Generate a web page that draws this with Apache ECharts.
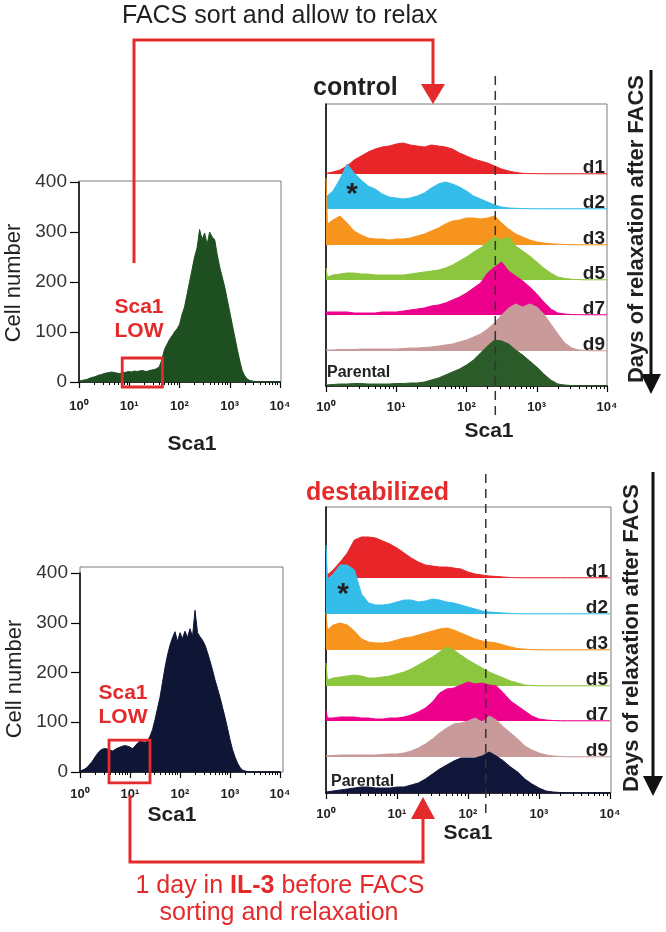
<!DOCTYPE html>
<html><head><meta charset="utf-8">
<script src="https://cdn.jsdelivr.net/npm/echarts@6/dist/echarts.min.js"></script>
<style>html,body{margin:0;padding:0;background:#fff}#c{width:666px;height:932px}</style>
</head><body><div id="c"></div>
<script>
// ---------- DATA ----------
// x positions are log10(Sca1)
const ridgeX = [0,0.02,0.1,0.2,0.3,0.4,0.5,0.6,0.7,0.8,0.9,1.0,1.1,1.2,1.3,1.4,1.5,1.6,1.7,1.8,1.9,2.0,2.1,2.2,2.3,2.4,2.5,2.6,2.7,2.8,2.9,3.0,3.1,3.2,3.3,3.4,3.5,3.6,3.7,3.8,3.9,4.0];
const bigX = [0,0.05,0.1,0.15,0.2,0.25,0.3,0.35,0.4,0.45,0.5,0.55,0.6,0.65,0.7,0.75,0.8,0.85,0.9,0.95,1,1.05,1.1,1.15,1.2,1.25,1.3,1.35,1.4,1.45,1.5,1.55,1.6,1.65,1.7,1.75,1.8,1.85,1.9,1.95,2,2.05,2.1,2.15,2.2,2.25,2.3,2.35,2.4,2.45,2.5,2.55,2.6,2.65,2.7,2.75,2.8,2.85,2.9,2.95,3,3.05,3.1,3.15,3.2,3.25,3.3,3.35,3.4,3.45,3.5,3.55,3.6,3.65,3.7,3.75,3.8,3.85,3.9,3.95,4];
const tickLabels = ['10\u2070','10\u00b9','10\u00b2','10\u00b3','10\u2074'];
const cellTicks = [0,100,200,300,400];
const rowLabels = ['d1','d2','d3','d5','d7','d9','Parental'];

// control (top) - big histogram of parental cells, cell number
const parentalCtrlBig = [2,3,4,5,7,9,10,12,14,15,17,18,19,20,19,18,17,18,19,20,21,20,22,21,22,23,22,21,23,24,25,27,31,45,65,75,85,92,100,106,115,135,150,175,200,225,250,268,305,285,298,275,300,290,285,255,230,210,190,165,140,115,90,65,42,22,12,6,3,2,1,0,0,0,0,0,0,0,0,0,0];
// destabilized (bottom) big histogram
const parentalDstBig = [2,4,6,10,16,22,30,37,43,46,47,46,44,42,45,48,50,52,53,52,50,47,52,58,63,61,60,62,72,85,105,128,150,180,210,235,255,270,282,262,280,268,283,270,288,272,325,280,272,265,255,240,223,205,185,168,150,130,110,88,65,45,30,18,9,4,2,1,0,0,0,0,0,0,0,0,0,0,0,0,0];

// control ridges (relative counts)
const ctrlD1 = [0.5,1,2,4,8,14,18,22,25,27,28,30,31,29,28,27,29,28,27,25,21,18,15,13,11,8,5,3,1.5,0.7,0.4,0.3,0.2,0.2,0.2,0.2,0.2,0.2,0.2,0.2,0.2,0.2];
const ctrlD2 = [12,13,18,30,45,36,29,23,20,15,12,11,10,11,13,16,21,25,27,25,22,18,13,10,7,4,2,1,0.7,0.4,0.3,0.2,0.2,0.2,0.2,0.2,0.2,0.2,0.2,0.2,0.2,0.2];
const ctrlD3 = [67,21,25,29,22,14,10,7,6,6,5,6,6,7,9,11,14,17,21,24,25,27,27,26,27,29,22,16,11,8,5,3,2,1.2,0.8,0.5,0.3,0.2,0.2,0.2,0.2,0.2];
const ctrlD5 = [12,3,5,6,7,7,6,6,5,5,5,5,5,6,7,8,9,10,12,15,19,23,28,32,38,43,40,43,34,29,24,18,12,7,3,1.5,0.7,0.4,0.2,0.2,0.2,0.2];
const ctrlD7 = [3,3,3,3,3,2,2,2,2,3,3,3,4,5,6,7,9,10,12,15,18,22,27,32,42,48,53,44,39,34,28,21,13,6,2,1,0.5,0.3,0.2,0.2,0.2,0.2];
const ctrlD9 = [1,1,1,1.5,1.5,1.5,2,2,2,2,2,2,2.5,3,3,3.5,4,5,6,7,9,11,14,17,22,28,36,43,47,44,47,44,37,27,17,8,3,1,0.5,0.2,0.2,0.2];
const ctrlPar = [1,1,1.5,2,2,2.5,2.5,2,2,2,2,2.5,2.5,3,3,4,6,8,11,14,17,21,26,33,40,46,45,42,36,31,25,19,12,6,2,1,0.4,0.2,0.2,0.2,0.2,0.2];

// destabilized ridges
const dstD1 = [2,3,8,16,25,38,41,41,40,37,34,30,25,20,16,13,12,11,11,10,9,6,4,3,2,1.5,1,0.5,0.3,0.2,0.2,0.2,0.2,0.2,0.2,0.2,0.2,0.2,0.2,0.2,0.2,0.2];
const dstD2 = [69,35,40,49,49,44,20,11,9,9,10,12,14,14,12,13,15,14,12,11,9,7,5,3,2,1.5,1,0.5,0.3,0.2,0.2,0.2,0.2,0.2,0.2,0.2,0.2,0.2,0.2,0.2,0.2,0.2];
const dstD3 = [37,20,25,27,25,19,11,8,7,7,8,10,12,13,15,17,19,21,22,20,17,14,11,9,8,7,5,3,1.5,0.8,0.4,0.2,0.2,0.2,0.2,0.2,0.2,0.2,0.2,0.2,0.2,0.2];
const dstD5 = [23,6,8,9,10,11,10,8,8,9,10,12,14,17,21,25,29,34,39,36,31,26,22,18,14,11,8,5,3,1,0.5,0.2,0.2,0.2,0.2,0.2,0.2,0.2,0.2,0.2,0.2,0.2];
const dstD7 = [11,3,3,4,4,4,3,3,2,2,3,3,4,6,9,13,19,28,32,33,36,39,37,38,36,35,28,20,15,10,5,2,1,0.5,0.2,0.2,0.2,0.2,0.2,0.2,0.2,0.2];
const dstD9 = [1,1,1.5,2,2,2,2,2,2,2.5,3,3,4,6,9,13,18,24,29,33,34,36,39,35,41,37,30,24,18,11,7,4,2,1,0.5,0.2,0.2,0.2,0.2,0.2,0.2,0.2];
const dstPar = [1,1,2,3,4,5,6,6,5,5,5,6,6,8,10,14,19,24,28,32,35,35,35,37,41,37,32,26,21,14,9,5,2,1,0.5,0.2,0.2,0.2,0.2,0.2,0.2,0.2];

// sort gates (log10 Sca1, cell number) and threshold lines (Sca1)
const gateCtrl = {x:[0.86,1.66], y:[-10,48]};
const gateDst  = {x:[0.58,1.40], y:[-22,64]};
const thresholdCtrl = 257;
const thresholdDst = 178;

// ---------- STYLE ----------
const FONT = 'Arial, "Liberation Sans", Helvetica, sans-serif';
const INK = '#231f20';
const RED = '#e42a2a';
const ctrlColors = ['#e8262a','#35bdea','#f7941d','#8cc63f','#ec008c','#c99a9a','#2b5b28'];
const dstColors  = ['#e8262a','#35bdea','#f7941d','#8cc63f','#ec008c','#c99a9a','#0f163a'];
const bigGreen = '#1e4f20';
const bigNavy = '#0e1535';

const minorTicks = [];
for (let d = 0; d < 4; d++) for (let k = 2; k <= 9; k++) minorTicks.push(d + Math.log10(k));

const grid = [], xAxis = [], yAxis = [], series = [];

function addFrame(rect, leftAxis) {
  const gi = grid.length;
  grid.push(Object.assign({show:true, borderColor:'#7a7a7a', borderWidth:1, backgroundColor:'transparent'}, rect));
  xAxis.push({gridIndex:gi, type:'value', min:0, max:1, show:false});
  yAxis.push({gridIndex:gi, type:'value', min:0, max:1, show: !!leftAxis,
    axisLine:{show:true, lineStyle:{color:'#000', width:1.5}}, axisTick:{show:false}, axisLabel:{show:false}, splitLine:{show:false}});
}
function visibleX(gi, margin) {
  xAxis.push({gridIndex:gi, type:'value', min:0, max:4, interval:1, position:'bottom',
    axisLine:{show:true, onZero:false, lineStyle:{color:'#000', width:1.5}},
    axisTick:{show:true, inside:false, length:6, lineStyle:{color:'#000', width:1.2}},
    splitLine:{show:false},
    axisLabel:{show:true, margin:margin, formatter:v => tickLabels[Math.round(v)], fontFamily:FONT, fontSize:13, fontWeight:'bold', color:INK}});
  xAxis.push({gridIndex:gi, type:'value', min:0, max:4, position:'bottom',
    axisLine:{show:false}, axisLabel:{show:false}, splitLine:{show:false},
    axisTick:{show:true, customValues:minorTicks, length:3, lineStyle:{color:'#000', width:1}}});
}
function areaSeries(xi, yi, xs, ys, color, z) {
  series.push({type:'line', xAxisIndex:xi, yAxisIndex:yi, data: xs.map((x, j) => [x, ys[j]]),
    showSymbol:false, symbol:'none', smooth:false, clip:false, silent:true, z:z,
    lineStyle:{color:color, width:1}, itemStyle:{color:color}, areaStyle:{color:color, opacity:1}});
  return series.length - 1;
}
function bigHist(frameRect, dataRect, ys, color, labelMargin) {
  addFrame(frameRect, false);
  const gi = grid.length;
  grid.push(dataRect);
  const xi = xAxis.length;
  visibleX(gi, labelMargin);
  const yi = yAxis.length;
  yAxis.push({gridIndex:gi, type:'value', min:0, max:400, interval:100,
    axisLine:{show:true, lineStyle:{color:'#000', width:1.5}},
    axisTick:{show:true, length:9, lineStyle:{color:'#000', width:1.2}},
    splitLine:{show:false},
    axisLabel:{show:true, margin:12, fontFamily:FONT, fontSize:19, color:'#333', formatter: v => String(v)}});
  return areaSeries(xi, yi, bigX, ys, color, 3);
}
function ridges(frameRect, left, width, baselines, rows, colors, labelMargin) {
  addFrame(frameRect, true);
  let lastSeries = -1;
  rows.forEach((ys, i) => {
    const gi = grid.length;
    grid.push({left:left, width:width, top:baselines[i] - 80, height:80});
    const xi = xAxis.length;
    if (i === rows.length - 1) visibleX(gi, labelMargin);
    else xAxis.push({gridIndex:gi, type:'value', min:0, max:4, show:false});
    const yi = yAxis.length;
    yAxis.push({gridIndex:gi, type:'value', min:0, max:80, show:false});
    lastSeries = areaSeries(xi, yi, ridgeX, ys, colors[i], 3 + i);
  });
  return lastSeries;
}

const ctrlBase = [174, 209, 245, 280, 315, 351, 386];
const dstBase = [578, 614, 650, 686, 721, 757, 793];

const sTL = bigHist({left:79, top:181, width:202, height:201}, {left:79, top:182, width:201, height:200}, parentalCtrlBig, bigGreen, 18);
const sTR = ridges({left:326, top:104, width:281, height:282}, 326, 281, ctrlBase,
  [ctrlD1, ctrlD2, ctrlD3, ctrlD5, ctrlD7, ctrlD9, ctrlPar], ctrlColors, 15);
const sBL = bigHist({left:80, top:567, width:203, height:205}, {left:80, top:573, width:200, height:199}, parentalDstBig, bigNavy, 16);
const sBR = ridges({left:326, top:507, width:285, height:286}, 326, 284, dstBase,
  [dstD1, dstD2, dstD3, dstD5, dstD7, dstD9, dstPar], dstColors, 15);

const chart = echarts.init(document.getElementById('c'), null, {renderer:'canvas', width:666, height:932});
chart.setOption({animation:false, backgroundColor:'#fff', textStyle:{fontFamily:FONT}, grid, xAxis, yAxis, series});

// ---------- ANNOTATIONS ----------
const g = [];
function txt(x, y, text, font, fill, align, valign, rot, extra) {
  g.push(Object.assign({type:'text', x:x, y:y, rotation:rot || 0, silent:true, z:100,
    style:Object.assign({text:text, font:font, fill:fill, textAlign:align, textVerticalAlign:valign, align:align, verticalAlign:valign}, extra || {})}));
}
function gateRect(sIdx, gate) {
  const p1 = chart.convertToPixel({seriesIndex:sIdx}, [gate.x[0], gate.y[1]]);
  const p2 = chart.convertToPixel({seriesIndex:sIdx}, [gate.x[1], gate.y[0]]);
  g.push({type:'rect', z:100, silent:true, shape:{x:p1[0], y:p1[1], width:p2[0]-p1[0], height:p2[1]-p1[1]},
    style:{fill:'none', stroke:RED, lineWidth:2.8}});
}
function dashLine(sIdx, value, y1, y2) {
  const x = chart.convertToPixel({seriesIndex:sIdx}, [Math.log10(value), 0])[0];
  g.push({type:'line', z:100, silent:true, shape:{x1:x, y1:y1, x2:x, y2:y2}, style:{stroke:'#333', lineWidth:1.5, lineDash:[9,6]}});
}
gateRect(sTL, gateCtrl);
gateRect(sBL, gateDst);
dashLine(sTR, thresholdCtrl, 76, 418);
dashLine(sBR, thresholdDst, 474, 814);

// red connectors
g.push({type:'polyline', z:100, silent:true, shape:{points:[[134,263],[134,40],[433,40],[433,88]]}, style:{stroke:RED, lineWidth:3, fill:null}});
g.push({type:'polygon', z:100, silent:true, shape:{points:[[421,84],[445,84],[433,104]]}, style:{fill:RED}});
g.push({type:'polyline', z:100, silent:true, shape:{points:[[130,795],[130,862],[423,862],[423,815]]}, style:{stroke:RED, lineWidth:3, fill:null}});
g.push({type:'polygon', z:100, silent:true, shape:{points:[[411,819],[435,819],[423,797]]}, style:{fill:RED}});
// black day arrows
g.push({type:'line', z:100, silent:true, shape:{x1:651, y1:70, x2:651, y2:378}, style:{stroke:'#111', lineWidth:3}});
g.push({type:'polygon', z:100, silent:true, shape:{points:[[641,374],[661,374],[651,394]]}, style:{fill:'#111'}});
g.push({type:'line', z:100, silent:true, shape:{x1:653, y1:472, x2:653, y2:779}, style:{stroke:'#111', lineWidth:3}});
g.push({type:'polygon', z:100, silent:true, shape:{points:[[643,776],[663,776],[653,796]]}, style:{fill:'#111'}});

// titles and labels
txt(122, 16, 'FACS sort and allow to relax', '25px ' + FONT, INK, 'left', 'middle');
txt(313, 88, 'control', 'bold 25px ' + FONT, INK, 'left', 'middle');
txt(306, 493, 'destabilized', 'bold 25px ' + FONT, RED, 'left', 'middle');
txt(14, 283, 'Cell number', '22px ' + FONT, INK, 'center', 'middle', Math.PI / 2);
txt(15, 679, 'Cell number', '22px ' + FONT, INK, 'center', 'middle', Math.PI / 2);
txt(139, 307, 'Sca1', 'bold 21px ' + FONT, RED, 'center', 'middle');
txt(139, 331, 'LOW', 'bold 21px ' + FONT, RED, 'center', 'middle');
txt(123, 693, 'Sca1', 'bold 21px ' + FONT, RED, 'center', 'middle');
txt(123, 717, 'LOW', 'bold 21px ' + FONT, RED, 'center', 'middle');
txt(192, 444, 'Sca1', 'bold 21px ' + FONT, INK, 'center', 'middle');
txt(489, 431, 'Sca1', 'bold 21px ' + FONT, INK, 'center', 'middle');
txt(172, 815, 'Sca1', 'bold 21px ' + FONT, INK, 'center', 'middle');
txt(468, 833, 'Sca1', 'bold 21px ' + FONT, INK, 'center', 'middle');
txt(637, 229, 'Days of relaxation after FACS', 'bold 22px ' + FONT, INK, 'center', 'middle', Math.PI / 2);
txt(632, 638, 'Days of relaxation after FACS', 'bold 22px ' + FONT, INK, 'center', 'middle', Math.PI / 2);
txt(352, 195, '*', 'bold 30px ' + FONT, INK, 'center', 'middle');
txt(343, 595, '*', 'bold 30px ' + FONT, INK, 'center', 'middle');
rowLabels.forEach((lab, i) => {
  if (lab === 'Parental') {
    txt(327, ctrlBase[i] - 5, lab, 'bold 16px ' + FONT, INK, 'left', 'bottom');
    txt(331, dstBase[i] - 3, lab, 'bold 16px ' + FONT, INK, 'left', 'bottom');
  } else {
    txt(605, ctrlBase[i] + 3, lab, 'bold 19px ' + FONT, INK, 'right', 'bottom');
    txt(608, dstBase[i] + 3, lab, 'bold 19px ' + FONT, INK, 'right', 'bottom');
  }
});
txt(280, 886, '1 day in {b|IL-3} before FACS', '25px ' + FONT, RED, 'center', 'middle', 0,
  {rich:{b:{fontWeight:'bold', fontSize:25, fontFamily:FONT, fill:RED, color:RED}}});
txt(279, 913, 'sorting and relaxation', '25px ' + FONT, RED, 'center', 'middle');

chart.setOption({graphic:{elements:g}});
</script>
</body></html>
